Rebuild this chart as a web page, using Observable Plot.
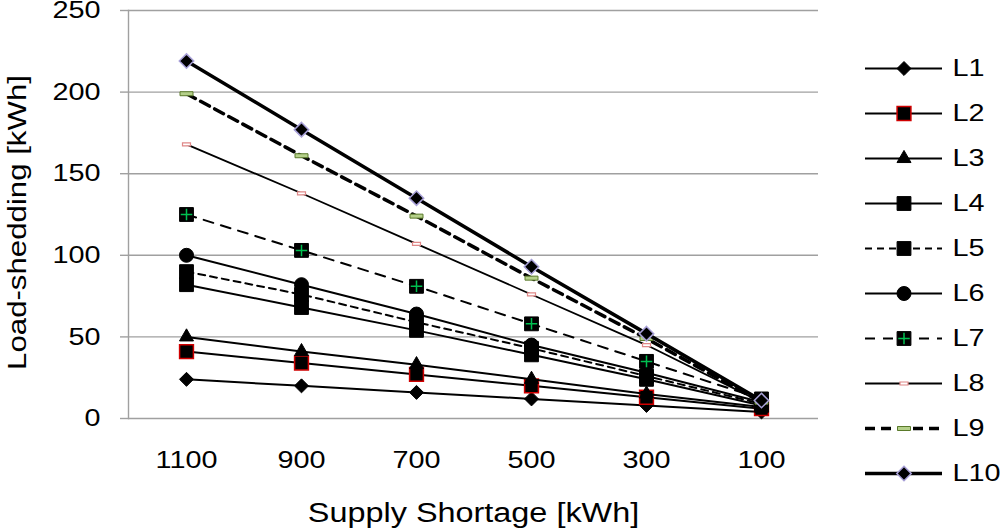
<!DOCTYPE html>
<html><head><meta charset="utf-8">
<script src="https://cdn.jsdelivr.net/npm/d3@7"></script>
<script src="https://cdn.jsdelivr.net/npm/@observablehq/plot@0.6"></script>
<style>
html,body{margin:0;padding:0;background:#fff;}
#wrap{display:flex;width:1000px;height:528px;overflow:hidden;}
</style></head><body><div id="wrap"></div>
<script>
// ---- data ----
const shortage = [1100, 900, 700, 500, 300, 100];
const seriesNames = ["L1", "L2", "L3", "L4", "L5", "L6", "L7", "L8", "L9", "L10"];
const L1  = [24, 20, 16, 12, 8, 4];
const L2  = [41, 34, 27, 20, 13, 6];
const L3  = [50, 41, 33, 24, 15, 7];
const L4  = [82, 68, 54, 39, 24, 8];
const L5  = [90, 76, 59, 43, 26, 9];
const L6  = [100, 82, 64, 45, 28, 10];
const L7  = [125, 103, 81, 58, 35, 12];
const L8  = [168, 138, 107, 76, 45, 10];
const L9  = [199, 161, 124, 86, 49, 10];
const L10 = [219, 177, 135, 93, 52, 11];
const seriesValues = [L1, L2, L3, L4, L5, L6, L7, L8, L9, L10];
const yTicks = [0, 50, 100, 150, 200, 250];
const xTitle = "Supply Shortage [kWh]";
const yTitle = "Load-shedding [kWh]";

// ---- styles ----
const rectSymbol = (w, h) => ({draw(ctx) { ctx.rect(-w / 2, -h / 2, w, h); }});
const styles = {
  L1:  {sw: 2,   dots: [{symbol: "diamond2", r: 6.3, fill: "#000", stroke: "#000", strokeWidth: 1}]},
  L2:  {sw: 2,   dots: [{symbol: "square", r: 7.8, fill: "#000", stroke: "#d00000", strokeWidth: 1.5}]},
  L3:  {sw: 2,   dots: [{symbol: "triangle", r: 5.2, fill: "#000", stroke: "#000", strokeWidth: 1}]},
  L4:  {sw: 2,   dots: [{symbol: "square", r: 7.8, fill: "#000", stroke: "#000", strokeWidth: 1}]},
  L5:  {sw: 2,   dash: "7,5", dots: [{symbol: "square", r: 7.8, fill: "#000", stroke: "#000", strokeWidth: 1}]},
  L6:  {sw: 2,   dots: [{symbol: "circle", r: 7, fill: "#000", stroke: "#000", strokeWidth: 1}]},
  L7:  {sw: 2,   dash: "10,8", dots: [
          {symbol: "square", r: 7.8, fill: "#000", stroke: "#000", strokeWidth: 1},
          {symbol: "plus", r: 3.8, fill: "none", stroke: "#00c050", strokeWidth: 1.5}]},
  L8:  {sw: 1.8, dots: [{symbol: rectSymbol(8, 3), fill: "#fff", stroke: "#e08888", strokeWidth: 1.2}]},
  L9:  {sw: 3.5, dash: "10,6", dots: [{symbol: rectSymbol(13, 4), fill: "#b5d08a", stroke: "#5a7a2a", strokeWidth: 1}]},
  L10: {sw: 3.5, dots: [{symbol: "diamond2", r: 6.5, fill: "#000", stroke: "#a8a0d8", strokeWidth: 1.5}]}
};

const FONT = "'Liberation Sans', Arial, sans-serif";
const STRETCH = 1.2;

// ---- main chart ----
const marks = [
  Plot.gridY(yTicks, {stroke: "#a0a0a0", strokeOpacity: 1, strokeWidth: 1.4}),
  Plot.frame({anchor: "left", stroke: "#a0a0a0", strokeWidth: 1.4}),
  Plot.axisY(yTicks, {tickSize: 8, tickPadding: 20, stroke: "#a0a0a0", strokeWidth: 1.4, fill: "#000", fontSize: 24, label: null}),
  Plot.axisX(shortage, {tickSize: 0, tickPadding: 32, fill: "#000", fontSize: 24, label: null, tickFormat: d => String(d)}),
  Plot.text([xTitle], {frameAnchor: "bottom", text: d => d, textAnchor: "middle", lineAnchor: "middle", dy: 95, fontSize: 27, fill: "#000"}),
  Plot.text([yTitle], {frameAnchor: "left", text: d => d, textAnchor: "middle", lineAnchor: "middle", rotate: -90, dx: -111, dy: 8, fontSize: 26, fill: "#000"})
];
seriesNames.forEach((name, i) => {
  const rows = shortage.map((x, j) => ({name, x, y: seriesValues[i][j]}));
  const st = styles[name];
  marks.push(Plot.line(rows, {x: "x", y: "y", stroke: "#000", strokeWidth: st.sw, strokeDasharray: st.dash}));
  st.dots.forEach(d => marks.push(Plot.dot(rows, {x: "x", y: "y", symbol: d.symbol, r: d.r, fill: d.fill, stroke: d.stroke, strokeWidth: d.strokeWidth})));
});

const chart = Plot.plot({
  width: 840, height: 528,
  marginLeft: 128, marginRight: 22, marginTop: 10, marginBottom: 110,
  style: {fontFamily: FONT, background: "#fff", color: "#000"},
  x: {type: "point", domain: shortage, padding: 0.5, axis: null},
  y: {type: "linear", domain: [0, 250], axis: null},
  marks
});

// ---- legend ----
const lmarks = [];
seriesNames.forEach(name => {
  const st = styles[name];
  lmarks.push(Plot.ruleY([name], {y: d => d, x1: () => 0, x2: () => 1, stroke: "#000", strokeWidth: st.sw, strokeDasharray: st.dash}));
  st.dots.forEach(d => lmarks.push(Plot.dot([name], {x: () => 0.5, y: d2 => d2, symbol: d.symbol, r: d.r, fill: d.fill, stroke: d.stroke, strokeWidth: d.strokeWidth})));
});
lmarks.push(Plot.text(seriesNames, {x: () => 1, y: d => d, text: d => d, dx: 10, textAnchor: "start", fontSize: 24, fill: "#000"}));

const legend = Plot.plot({
  width: 160, height: 528,
  marginLeft: 25, marginRight: 58, marginTop: 65, marginBottom: 52,
  style: {fontFamily: FONT, background: "#fff", color: "#000"},
  x: {type: "linear", domain: [0, 1], axis: null},
  y: {type: "point", domain: seriesNames, padding: 0, axis: null},
  marks: lmarks
});

const wrap = document.getElementById("wrap");
wrap.appendChild(chart);
wrap.appendChild(legend);

// widen glyphs to match the reference's text proportions
wrap.querySelectorAll("svg text").forEach(t => {
  const len = t.getComputedTextLength();
  if (len > 0) {
    t.setAttribute("textLength", (len * STRETCH).toFixed(1));
    t.setAttribute("lengthAdjust", "spacingAndGlyphs");
  }
});
</script></body></html>
